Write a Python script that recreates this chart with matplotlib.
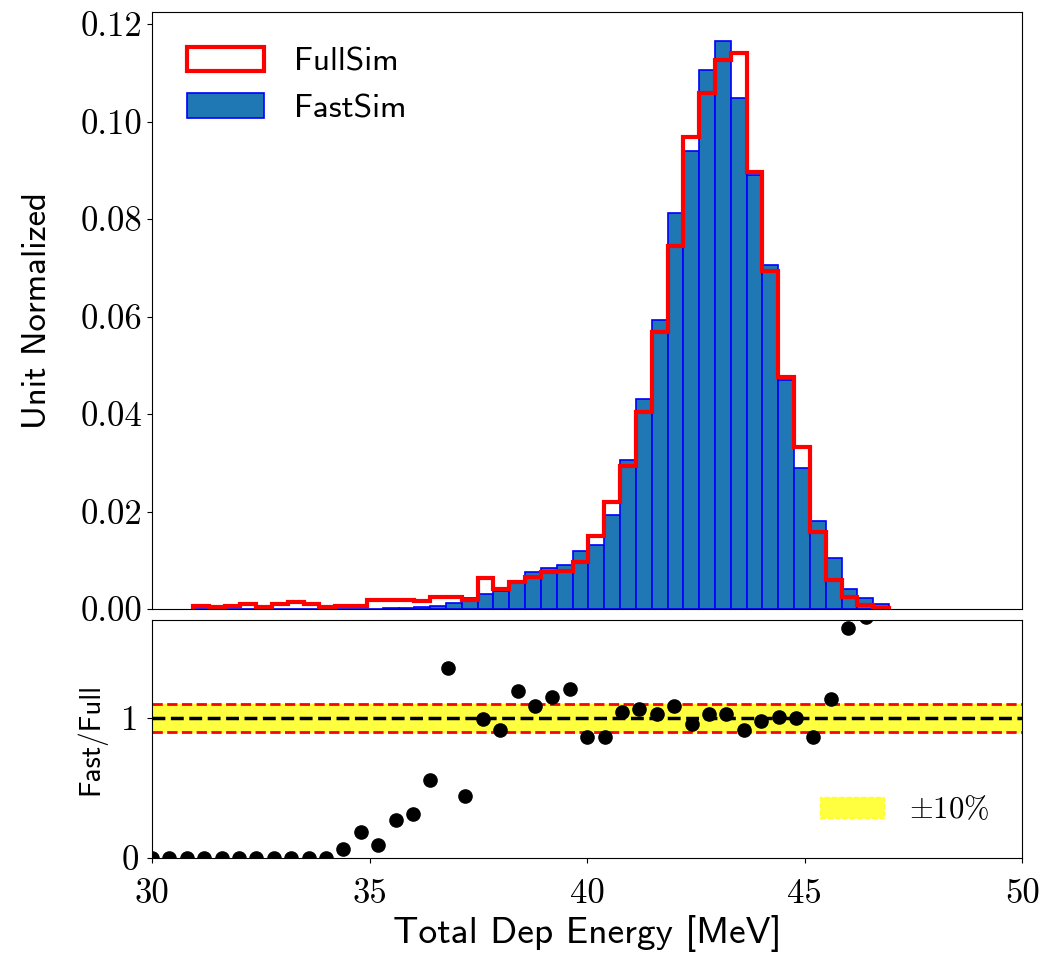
import matplotlib
matplotlib.use("Agg")
import matplotlib.pyplot as plt
import numpy as np

plt.rcParams['mathtext.fontset'] = 'cm'
plt.rcParams['font.family'] = ['cmr10', 'DejaVu Serif']
plt.rcParams['axes.unicode_minus'] = False

# histogram binning
bin_lo = 30.94
bin_w = 0.3636
n_bins = 44

# unit-normalized bin contents
full = [0.0006, 0.0005, 0.0007, 0.0010, 0.0005, 0.0010, 0.0014, 0.0010, 0.0005, 0.0006,
        0.0006, 0.0018, 0.0018, 0.0019, 0.0016, 0.0024, 0.0024, 0.0018, 0.0064, 0.0041,
        0.0056, 0.0066, 0.0075, 0.0079, 0.0097, 0.0149, 0.0219, 0.0294, 0.0405, 0.0568,
        0.0744, 0.0968, 0.1058, 0.1127, 0.1141, 0.0896, 0.0694, 0.0477, 0.0333, 0.0159,
        0.0060, 0.0025, 0.0008, 0.0003]
fast = [0.0, 0.0, 0.0, 0.0, 0.0, 0.0, 0.0, 0.0, 0.0, 0.0,
        0.0, 0.0, 0.0003, 0.0003, 0.0005, 0.0006, 0.0013, 0.0022, 0.0030, 0.0036,
        0.0054, 0.0075, 0.0084, 0.0090, 0.0120, 0.0131, 0.0193, 0.0306, 0.0431, 0.0594,
        0.0813, 0.0940, 0.1105, 0.1166, 0.1048, 0.0890, 0.0705, 0.0470, 0.0289, 0.0181,
        0.0104, 0.0042, 0.0023, 0.0010]

# ratio points (0.4 MeV steps starting at 30)
ratio_x0 = 30.0
ratio_step = 0.4
ratio = [0.0, 0.0, 0.0, 0.0, 0.0, 0.0, 0.0, 0.0, 0.0, 0.0,
         0.0, 0.064, 0.189, 0.095, 0.272, 0.314, 0.560, 1.355, 0.444, 0.993,
         0.915, 1.194, 1.087, 1.147, 1.206, 0.863, 0.863, 1.040, 1.064, 1.028,
         1.087, 0.957, 1.028, 1.028, 0.917, 0.981, 1.005, 1.000, 0.868, 1.139,
         1.640, 1.720]

edges = bin_lo + bin_w * np.arange(n_bins + 1)
centers = 0.5 * (edges[:-1] + edges[1:])
rx = ratio_x0 + ratio_step * np.arange(len(ratio))

sans = ['cmss10', 'DejaVu Sans']

fig = plt.figure(figsize=(10.41, 9.57), dpi=100)
ax1 = fig.add_axes([0.146, 0.3636, 0.836, 0.6239])
ax2 = fig.add_axes([0.146, 0.1034, 0.836, 0.2487])

# top: histograms
_, _, p_fast = ax1.hist(centers, bins=edges, weights=fast, color='#1f77b4',
                        edgecolor='blue', linewidth=1.2, label='FastSim')
_, _, p_full = ax1.hist(centers, bins=edges, weights=full, histtype='step',
                        color='red', linewidth=3, label='FullSim')
ax1.set_xlim(30, 50)
ax1.set_ylim(0, 0.1225)
ax1.set_yticks([0, 0.02, 0.04, 0.06, 0.08, 0.10, 0.12])
ax1.set_yticklabels(['0.00', '0.02', '0.04', '0.06', '0.08', '0.10', '0.12'])
ax1.set_xticks([])
ax1.tick_params(labelsize=25)
ax1.set_ylabel('Unit Normalized', fontsize=25, family=sans, labelpad=20)
ax1.legend([p_full[0], p_fast[0]], ['FullSim', 'FastSim'], loc='upper left',
           frameon=False, prop={'family': sans, 'size': 24},
           handlelength=2.3, handleheight=0.75, handletextpad=0.9,
           labelspacing=0.5, borderaxespad=0.65)

# bottom: ratio
ax2.axhspan(0.9, 1.1, facecolor='yellow', edgecolor='yellow', alpha=0.75,
            linestyle='--', label=r'$\pm10\%$')
ax2.axhline(1.0, color='black', linestyle='--', linewidth=2.5)
ax2.axhline(1.1, color='red', linestyle='--', linewidth=2)
ax2.axhline(0.9, color='red', linestyle='--', linewidth=2)
ax2.plot(rx, ratio, 'o', color='black', markersize=9.5, zorder=3)
ax2.set_xlim(30, 50)
ax2.set_ylim(0, 1.7)
ax2.set_yticks([0, 1])
ax2.set_xticks([30, 35, 40, 45, 50])
ax2.tick_params(labelsize=25)
ax2.tick_params(axis='x', pad=11)
ax2.tick_params(axis='y', pad=6)
ax2.set_ylabel('Fast/Full', fontsize=21, family=sans, labelpad=11)
ax2.set_xlabel('Total Dep Energy [MeV]', fontsize=27, family=sans, labelpad=4)
ax2.legend(loc='lower right', frameon=False, fontsize=22, handlelength=2.1,
           handletextpad=0.8, borderaxespad=0.7)

fig.savefig('out.png', dpi=100)
